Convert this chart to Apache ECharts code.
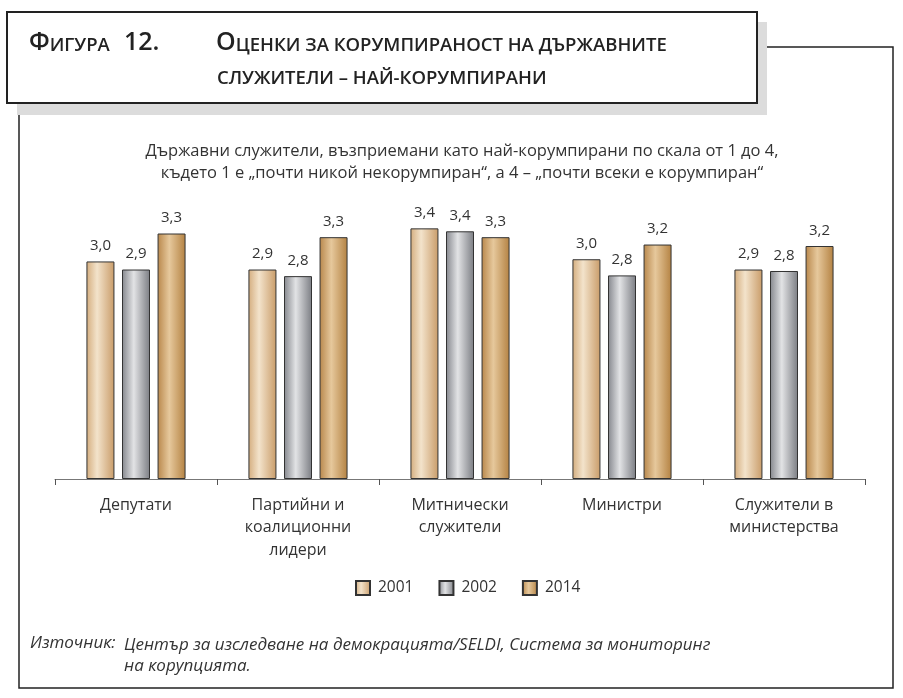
<!DOCTYPE html>
<html>
<head>
<meta charset="utf-8">
<script src="https://cdn.jsdelivr.net/npm/echarts@6/dist/echarts.min.js"></script>
<style>
html,body{margin:0;padding:0;background:#fff;}
#main{width:903px;height:698px;}
</style>
</head>
<body>
<div id="main"></div>
<script>
const categories = ['Депутати', 'Партийни и\nкоалиционни\nлидери', 'Митнически\nслужители', 'Министри', 'Служители в\nминистерства'];
const years = ['2001', '2002', '2014'];
const v2001 = [2.96, 2.85, 3.41, 2.99, 2.85];
const v2002 = [2.85, 2.76, 3.37, 2.77, 2.83];
const v2014 = [3.34, 3.29, 3.29, 3.19, 3.17];
const subtitleLines = ['Държавни служители, възприемани като най-корумпирани по скала от 1 до 4,', 'където 1 е „почти никой некорумпиран“, а 4 – „почти всеки е корумпиран“'];
const sourceLabel = 'Източник:';
const sourceLines = ['Център за изследване на демокрацията/SELDI, Система за мониторинг', 'на корупцията.'];

const FONT = 'Open Sans';
function grad(stops) {
  return {type: 'linear', x: 0, y: 0, x2: 1, y2: 0,
    colorStops: stops.map(s => ({offset: s[0], color: s[1]}))};
}
const fills = [
  grad([[0, '#d4ad7e'], [0.38, '#f3e3cb'], [1, '#c99c69']]),
  grad([[0, '#85878d'], [0.42, '#e2e3e5'], [1, '#7b7d83']]),
  grad([[0, '#b8874b'], [0.42, '#e6c89c'], [1, '#b48242']])
];
const seriesData = [v2001, v2002, v2014];
const titleRich = {
  b: {fontSize: 25, fontFamily: FONT, fontWeight: 600, fill: '#222', verticalAlign: 'bottom'},
  s: {fontSize: 18.5, fontFamily: FONT, fontWeight: 600, fill: '#222', verticalAlign: 'bottom'}
};

const chart = echarts.init(document.getElementById('main'));
chart.setOption({
  animation: false,
  textStyle: {fontFamily: FONT},
  grid: {left: 55, right: 38, top: 185, bottom: 219},
  xAxis: {
    type: 'category', data: categories,
    axisLine: {lineStyle: {color: '#777', width: 1}},
    axisTick: {show: true, length: 6, lineStyle: {color: '#555'}},
    axisLabel: {color: '#333', fontSize: 16, lineHeight: 22.5, margin: 15, fontFamily: FONT, interval: 0}
  },
  yAxis: {type: 'value', min: 0, max: 4, show: false, splitLine: {show: false}},
  legend: {
    data: years, top: 575, left: 350, itemWidth: 14, itemHeight: 14, itemGap: 25,
    icon: 'rect',
    textStyle: {color: '#333', fontSize: 15.5, fontFamily: FONT, padding: [0, 0, 0, 3]}
  },
  series: years.map((y, i) => ({
    name: y, type: 'bar', data: seriesData[i], barWidth: 28, barGap: '27%',
    itemStyle: {color: fills[i], borderColor: '#333', borderWidth: 1},
    label: {show: true, position: 'top', distance: 8, color: '#333', fontSize: 15, fontFamily: FONT,
      formatter: p => p.value.toFixed(1).replace('.', ',')}
  })),
  graphic: [
    {type: 'rect', z: 0, shape: {x: 19, y: 47, width: 874, height: 641}, style: {fill: 'none', stroke: '#222', lineWidth: 1.5}},
    {type: 'rect', z: 1, shape: {x: 17, y: 22, width: 750, height: 93}, style: {fill: '#dcdcdc'}},
    {type: 'rect', z: 2, shape: {x: 7, y: 12, width: 750, height: 91}, style: {fill: '#fff', stroke: '#222', lineWidth: 2}},
    {type: 'text', z: 3, left: 29, top: 30, style: {
      text: '{b|Ф}{s|ИГУРА}', rich: titleRich}},
    {type: 'text', z: 3, left: 124, top: 30, style: {
      text: '{b|12.}', rich: titleRich}},
    {type: 'text', z: 3, left: 216, top: 30, style: {
      text: '{b|О}{s|ЦЕНКИ ЗА КОРУМПИРАНОСТ НА ДЪРЖАВНИТЕ}', rich: titleRich}},
    {type: 'text', z: 3, left: 217, top: 69, style: {
      text: '{s|СЛУЖИТЕЛИ – НАЙ-КОРУМПИРАНИ}', rich: titleRich}},
    {type: 'text', z: 3, x: 462, y: 140, style: {
      text: subtitleLines.join('\n'), fontSize: 16.5, lineHeight: 22, fontFamily: FONT, fill: '#333', align: 'center'}},
    {type: 'text', z: 3, left: 30, top: 635, style: {
      text: sourceLabel, fontSize: 17, fontStyle: 'italic', fontFamily: FONT, fill: '#333'}},
    {type: 'text', z: 3, left: 124, top: 635, style: {
      text: sourceLines.join('\n'), fontSize: 17, lineHeight: 21, fontStyle: 'italic', fontFamily: FONT, fill: '#333'}}
  ]
});
</script>
</body>
</html>
